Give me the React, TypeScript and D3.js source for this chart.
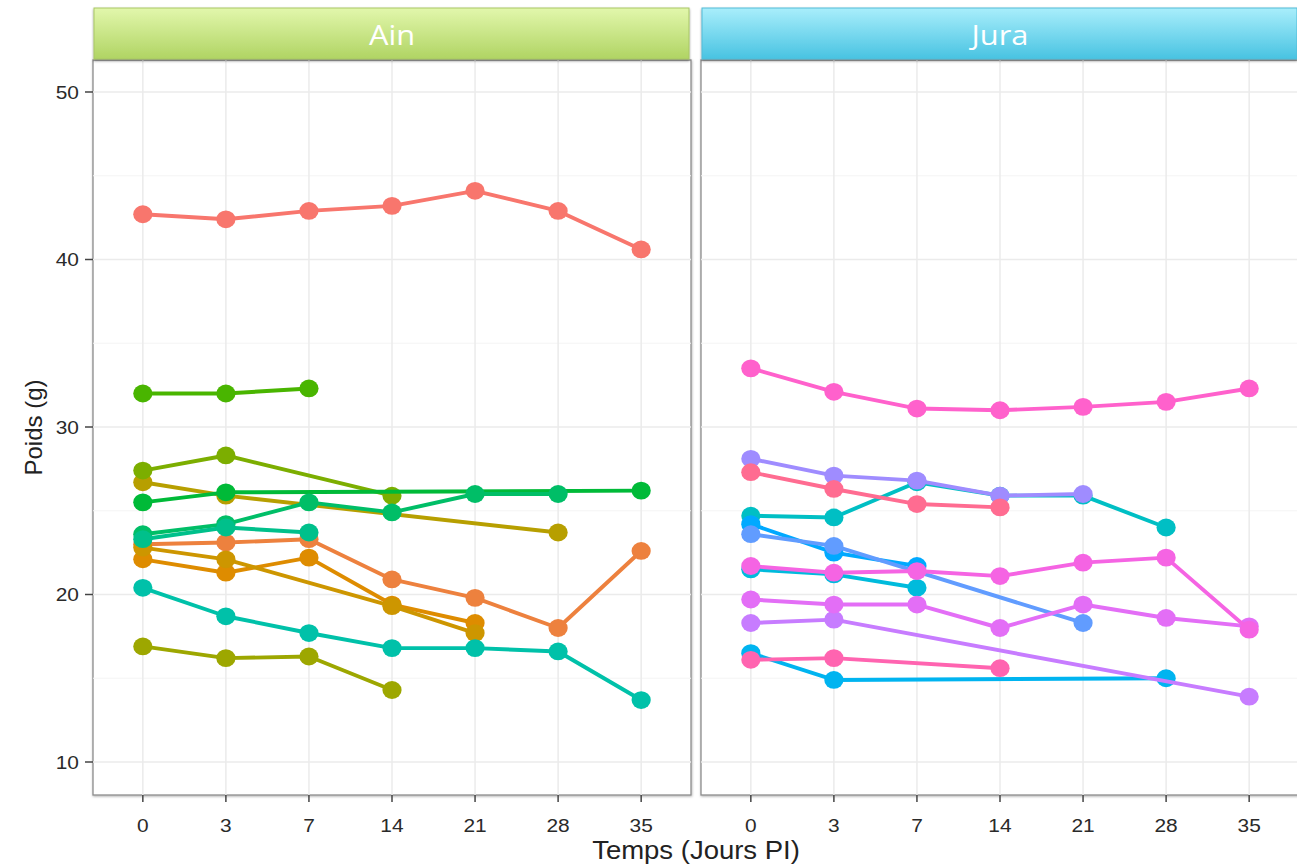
import React from "react";
import * as d3 from "d3";

// ---------- data ----------
const days = ["0", "3", "7", "14", "21", "28", "35"];
const yTicks = [10, 20, 30, 40, 50];
const yMinor = [15, 25, 35, 45];
const facets = ["Ain", "Jura"];

// Ain (hues 15..180)
const ain01 = [42.7, 42.4, 42.9, 43.2, 44.1, 42.9, 40.6];
const ain02 = [23.0, 23.1, 23.3, 20.9, 19.8, 18.0, 22.6];
const ain03 = [22.1, 21.3, 22.2, 19.4, 18.3, null, null];
const ain04 = [22.8, 22.1, null, 19.3, 17.7, null, null];
const ain05 = [26.7, 25.9, null, null, null, 23.7, null];
const ain06 = [16.9, 16.2, 16.3, 14.3, null, null, null];
const ain07 = [27.4, 28.3, null, 25.9, null, null, null];
const ain08 = [32.0, 32.0, 32.3, null, null, null, null];
const ain09 = [25.5, 26.1, null, null, null, null, 26.2];
const ain10 = [23.6, 24.2, 25.5, 24.9, 26.0, 26.0, null];
const ain11 = [23.3, 24.0, 23.7, null, null, null, null];
const ain12 = [20.4, 18.7, 17.7, 16.8, 16.8, 16.6, 13.7];

// Jura (hues 195..360)
const jura01 = [24.7, 24.6, 26.7, 25.9, 25.9, 24.0, null];
const jura02 = [21.5, 21.2, 20.4, null, null, null, null];
const jura03 = [16.5, 14.9, null, null, null, 15.0, null];
const jura04 = [24.2, 22.5, 21.7, null, null, null, null];
const jura05 = [23.6, 22.9, null, null, 18.3, null, null];
const jura06 = [28.1, 27.1, 26.8, 25.9, 26.0, null, null];
const jura07 = [18.3, 18.5, null, null, null, null, 13.9];
const jura08 = [19.7, 19.4, 19.4, 18.0, 19.4, 18.6, 18.1];
const jura09 = [21.7, 21.3, 21.4, 21.1, 21.9, 22.2, 17.9];
const jura10 = [33.5, 32.1, 31.1, 31.0, 31.2, 31.5, 32.3];
const jura11 = [16.1, 16.2, null, 15.6, null, null, null];
const jura12 = [27.3, 26.3, 25.4, 25.2, null, null, null];

const ainSeries = [ain01, ain02, ain03, ain04, ain05, ain06, ain07, ain08, ain09, ain10, ain11, ain12];
const juraSeries = [jura01, jura02, jura03, jura04, jura05, jura06, jura07, jura08, jura09, jura10, jura11, jura12];

// ---------- ggplot-like hue palette (HCL polar LUV, l=65, c=100) ----------
function hueColor(h: number): string {
  const L = 65, C = 100;
  const hr = (h * Math.PI) / 180;
  const u = C * Math.cos(hr), v = C * Math.sin(hr);
  const Xn = 95.047, Yn = 100, Zn = 108.883;
  const den = Xn + 15 * Yn + 3 * Zn;
  const un = (4 * Xn) / den, vn = (9 * Yn) / den;
  const Y = Yn * Math.pow((L + 16) / 116, 3);
  const up = u / (13 * L) + un, vp = v / (13 * L) + vn;
  const X = (Y * 9 * up) / (4 * vp);
  const Z = (Y * (12 - 3 * up - 20 * vp)) / (4 * vp);
  const x = X / 100, y = Y / 100, z = Z / 100;
  const lin = [
    3.2404542 * x - 1.5371385 * y - 0.4985314 * z,
    -0.969266 * x + 1.8760108 * y + 0.041556 * z,
    0.0556434 * x - 0.2040259 * y + 1.0572252 * z,
  ];
  const g = lin.map((c) => {
    const cc = c <= 0.0031308 ? 12.92 * c : 1.055 * Math.pow(c, 1 / 2.4) - 0.055;
    return Math.round(Math.max(0, Math.min(1, cc)) * 255);
  });
  return d3.rgb(g[0], g[1], g[2]).formatHex();
}

// ---------- layout ----------
const W = 1297, H = 867;
const panelTop = 60, panelBottom = 795;
const panels = [
  { x0: 93, x1: 691, series: ainSeries, hueStart: 15 },
  { x0: 701, x1: 1299, series: juraSeries, hueStart: 195 },
];
const stripTop = 8;

const y = d3.scaleLinear().domain([8.03, 51.91]).range([panelBottom, panelTop]);
const font = "'Liberation Sans', Arial, Helvetica, sans-serif";
const SX = 1.1;

export default function App() {
  return (
    <svg width={W} height={H} style={{ position: "absolute", left: 0, top: 0, background: "#fff" }}
      xmlns="http://www.w3.org/2000/svg">
      <defs>
        <linearGradient id="gAin" x1="0" y1="0" x2="0" y2="1">
          <stop offset="0%" stopColor="#e2f7ac" />
          <stop offset="100%" stopColor="#b0d463" />
        </linearGradient>
        <linearGradient id="gJura" x1="0" y1="0" x2="0" y2="1">
          <stop offset="0%" stopColor="#a9eefb" />
          <stop offset="100%" stopColor="#48c3e2" />
        </linearGradient>
        <filter id="shadow" x="-5%" y="-20%" width="110%" height="150%">
          <feDropShadow dx="0" dy="1.5" stdDeviation="1.2" floodColor="#000" floodOpacity="0.45" />
        </filter>
        <filter id="pshadow" x="-5%" y="-5%" width="110%" height="110%">
          <feDropShadow dx="0.5" dy="1" stdDeviation="0.8" floodColor="#000" floodOpacity="0.3" />
        </filter>
      </defs>

      {panels.map((p, pi) => {
        const x = d3.scalePoint<string>().domain(days).range([p.x0, p.x1]).padding(0.6);
        const line = d3
          .line<{ d: string; v: number }>()
          .x((d) => x(d.d) as number)
          .y((d) => y(d.v));
        return (
          <g key={pi}>
            <rect x={p.x0} y={panelTop} width={p.x1 - p.x0} height={panelBottom - panelTop}
              fill="#fff" stroke="#8c8c8c" strokeWidth={1.3} filter="url(#pshadow)" />
            {yMinor.map((t) => (
              <line key={"mn" + t} x1={p.x0} x2={p.x1} y1={y(t)} y2={y(t)} stroke="#f4f4f4" strokeWidth={1.2} />
            ))}
            {yTicks.map((t) => (
              <line key={"mj" + t} x1={p.x0} x2={p.x1} y1={y(t)} y2={y(t)} stroke="#ebebeb" strokeWidth={1.5} />
            ))}
            {days.map((d) => (
              <line key={"v" + d} x1={x(d)} x2={x(d)} y1={panelTop} y2={panelBottom} stroke="#ebebeb" strokeWidth={1.5} />
            ))}
            {p.series.map((s, si) => {
              const pts = s
                .map((v, i) => ({ d: days[i], v: v as number }))
                .filter((o) => o.v != null);
              const col = hueColor(p.hueStart + si * 15);
              return (
                <g key={si}>
                  <path d={line(pts) || ""} fill="none" stroke={col} strokeWidth={3.9} strokeLinejoin="round" />
                  {pts.map((o, k) => (
                    <ellipse key={k} cx={x(o.d)} cy={y(o.v)} rx={9.6} ry={8.9} fill={col} />
                  ))}
                </g>
              );
            })}
            {days.map((d) => (
              <g key={"xt" + d}>
                <line x1={x(d)} x2={x(d)} y1={panelBottom} y2={panelBottom + 7} stroke="#444" strokeWidth={1.5} />
                <text transform={`translate(${x(d)},${panelBottom + 37}) scale(${SX},1)`} textAnchor="middle"
                  fontFamily={font} fontSize={19} fill="#2a2a2a">{d}</text>
              </g>
            ))}
            <rect x={p.x0 + 1} y={stripTop} width={p.x1 - p.x0 - 3} height={panelTop - stripTop - 1}
              fill={pi === 0 ? "url(#gAin)" : "url(#gJura)"} stroke={pi === 0 ? "#a9c766" : "#52bcd8"}
              strokeWidth={1} filter="url(#shadow)" />
            <text transform={`translate(${(p.x0 + p.x1) / 2},${stripTop + 37}) scale(${SX},1)`} textAnchor="middle"
              fontFamily="'Open Sans', 'Noto Sans', sans-serif" fontSize={28} fill="#fff">{facets[pi]}</text>
          </g>
        );
      })}

      {yTicks.map((t) => (
        <g key={"yt" + t}>
          <line x1={85} x2={93} y1={y(t)} y2={y(t)} stroke="#444" strokeWidth={1.5} />
          <text transform={`translate(79,${y(t) + 7}) scale(${SX},1)`} textAnchor="end" fontFamily={font}
            fontSize={19} fill="#2a2a2a">{t}</text>
        </g>
      ))}

      <text transform={`translate(42,${(panelTop + panelBottom) / 2}) rotate(-90)`} textAnchor="middle"
        fontFamily={font} fontSize={24} fill="#222">Poids (g)</text>
      <text transform={`translate(696,859) scale(${SX},1)`} textAnchor="middle" fontFamily={font}
        fontSize={25} fill="#222">Temps (Jours PI)</text>
    </svg>
  );
}
